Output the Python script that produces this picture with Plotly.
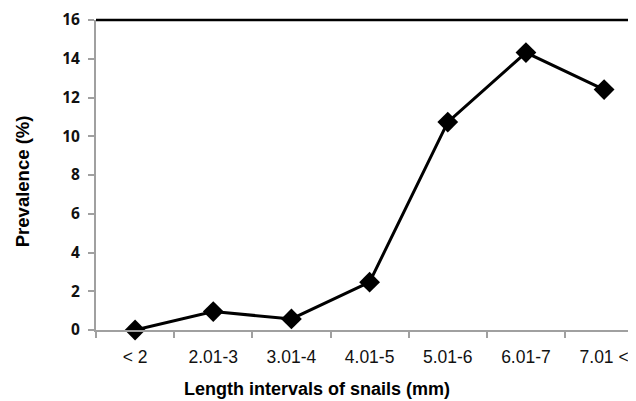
import plotly.graph_objects as go

length_intervals = ["< 2", "2.01-3", "3.01-4", "4.01-5", "5.01-6", "6.01-7", "7.01 <"]
prevalence = [0.0, 0.95, 0.57, 2.47, 10.73, 14.32, 12.41]
y_ticks = [0, 2, 4, 6, 8, 10, 12, 14, 16]

fig = go.Figure()

fig.add_trace(go.Scatter(
    x=length_intervals,
    y=prevalence,
    mode="lines+markers",
    line=dict(color="black", width=3),
    marker=dict(symbol="diamond", size=16, color="black"),
    cliponaxis=False,
    showlegend=False
))

# black top border line
fig.add_shape(type="line", xref="paper", yref="paper",
              x0=0, x1=1, y0=1, y1=1,
              line=dict(color="black", width=2.5))

# axis titles
fig.add_annotation(text="<b>Length intervals of snails (mm)</b>", xref="paper", yref="paper",
                   x=0.41, y=-0.19, xanchor="center", yanchor="middle", showarrow=False,
                   font=dict(size=18, family="Liberation Sans, Arial", color="black"))
fig.add_annotation(text="<b>Prevalence (%)</b>", xref="paper", yref="paper",
                   x=-0.137, y=0.48, xanchor="center", yanchor="middle",
                   textangle=-90, showarrow=False,
                   font=dict(size=18.5, family="Liberation Sans, Arial", color="black"))

# page body has an 8px margin, so the figure is shrunk to fit the window
fig.update_layout(
    width=628,
    height=393,
    margin=dict(l=88, r=0, t=12, b=71),
    plot_bgcolor="white",
    paper_bgcolor="white",
    font=dict(family="Liberation Sans, Arial", color="black"),
    xaxis=dict(
        type="category",
        tickson="boundaries",
        range=[-0.5, 6.408],
        automargin=False,
        showgrid=False,
        zeroline=False,
        showline=True,
        linecolor="#a0a0a0",
        linewidth=2,
        ticks="outside",
        tickcolor="#a0a0a0",
        ticklen=6,
        tickwidth=1.5,
        ticklabelstandoff=10,
        ticklabeloverflow="allow",
        tickfont=dict(size=17.5, family="Liberation Sans, Arial", color="#111"),
    ),
    yaxis=dict(
        range=[0, 16],
        tickvals=y_ticks,
        automargin=False,
        showgrid=False,
        zeroline=False,
        showline=True,
        linecolor="#a0a0a0",
        linewidth=2,
        ticks="outside",
        tickcolor="#a0a0a0",
        ticklen=6,
        tickwidth=1.5,
        ticklabelstandoff=5,
        ticklabeloverflow="allow",
        tickfont=dict(size=15.5, family="Open Sans, Liberation Sans", color="#111", weight="bold"),
    ),
)

fig.write_html("out.html")
